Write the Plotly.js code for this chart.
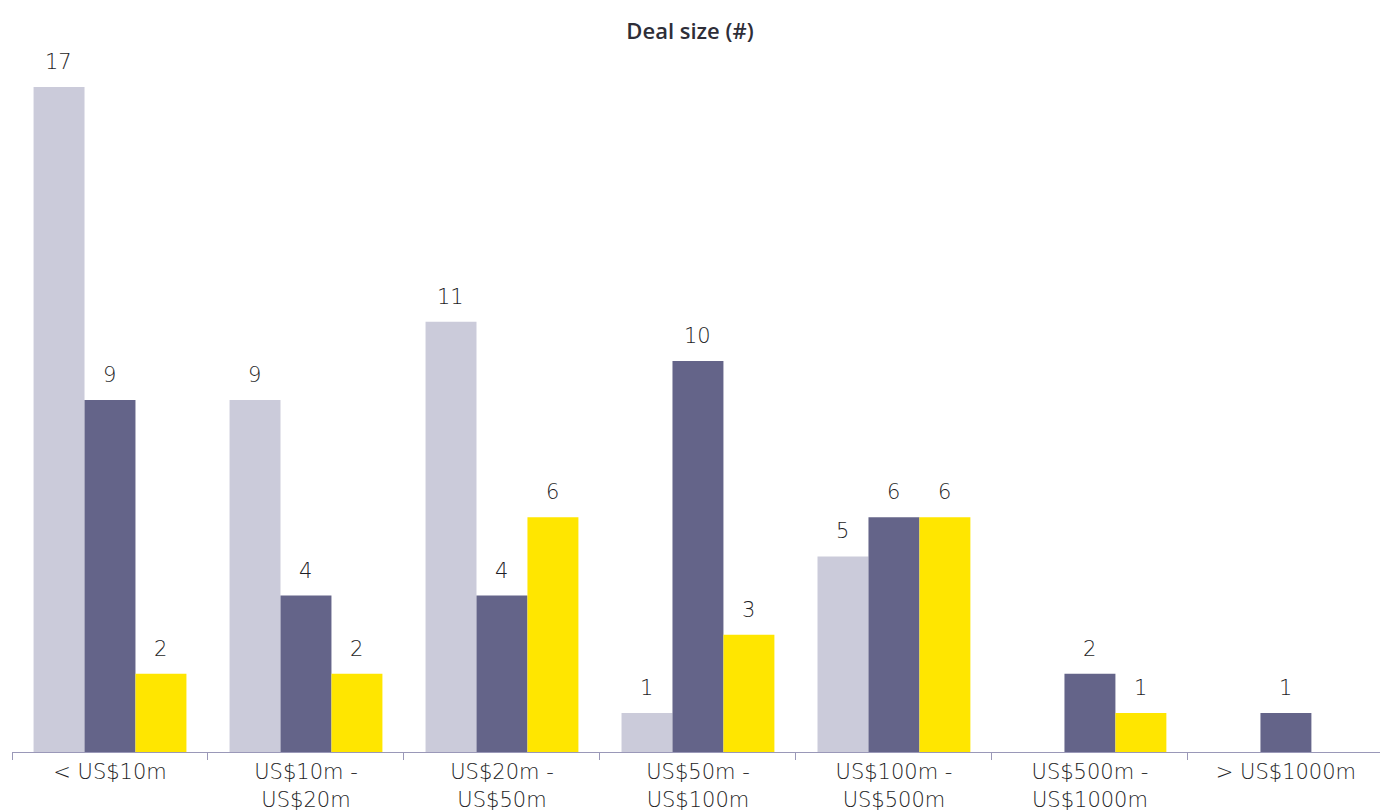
<!DOCTYPE html>
<html>
<head>
<meta charset="utf-8">
<script src="https://cdn.plot.ly/plotly-3.0.1.min.js"></script>
<style>html,body{margin:0;padding:0;background:#fff;}#chart{width:1380px;height:812px;}</style>
</head>
<body>
<div id="chart"></div>
<script>
const categories = ["< US$10m", "US$10m -<br>US$20m", "US$20m -<br>US$50m", "US$50m -<br>US$100m", "US$100m -<br>US$500m", "US$500m -<br>US$1000m", "> US$1000m"];
const seriesA = [17, 9, 11, 1, 5, null, null];
const seriesB = [9, 4, 4, 10, 6, 2, 1];
const seriesC = [2, 2, 6, 3, 6, 1, null];
const colors = ["#CBCBDA", "#646489", "#FFE600"];
const allSeries = [seriesA, seriesB, seriesC];

const traces = allSeries.map((vals, i) => ({
  type: "bar",
  x: categories,
  y: vals,
  marker: {color: colors[i], line: {width: 0}},
  hoverinfo: "none"
}));

const annotations = [];
allSeries.forEach((vals, i) => {
  vals.forEach((v, j) => {
    if (v === null) return;
    annotations.push({
      x: categories[j], y: v, xref: "x", yref: "y",
      text: String(v), showarrow: false,
      xanchor: "center", yanchor: "bottom",
      xshift: (i - 1) * 51, yshift: 11,
      font: {family: "DejaVu Sans", size: 21, color: "#1e1e26", weight: 300}
    });
  });
});

const layout = {
  width: 1380, height: 812,
  margin: {l: 12, r: 0, t: 48, b: 60},
  paper_bgcolor: "#ffffff", plot_bgcolor: "#ffffff",
  barmode: "group", bargap: 0.22, bargroupgap: 0,
  showlegend: false,
  title: {text: "Deal size (#)", x: 0.5, xanchor: "center", y: 0.962, yanchor: "middle",
          font: {family: "Open Sans", size: 22, color: "#2e2e38", weight: 600}},
  xaxis: {
    type: "category", range: [-0.5, 6.48],
    showline: true, linecolor: "#9a98b8", linewidth: 1,
    ticks: "outside", tickson: "boundaries", ticklen: 7, tickcolor: "#9a98b8",
    ticklabelstandoff: 1,
    showgrid: false, zeroline: false,
    tickfont: {family: "DejaVu Sans", size: 21, color: "#1e1e26", weight: 300}
  },
  yaxis: {range: [0, 18], visible: false, showgrid: false, zeroline: false},
  annotations: annotations
};

Plotly.newPlot("chart", traces, layout, {displayModeBar: false, staticPlot: true});
</script>
</body>
</html>
